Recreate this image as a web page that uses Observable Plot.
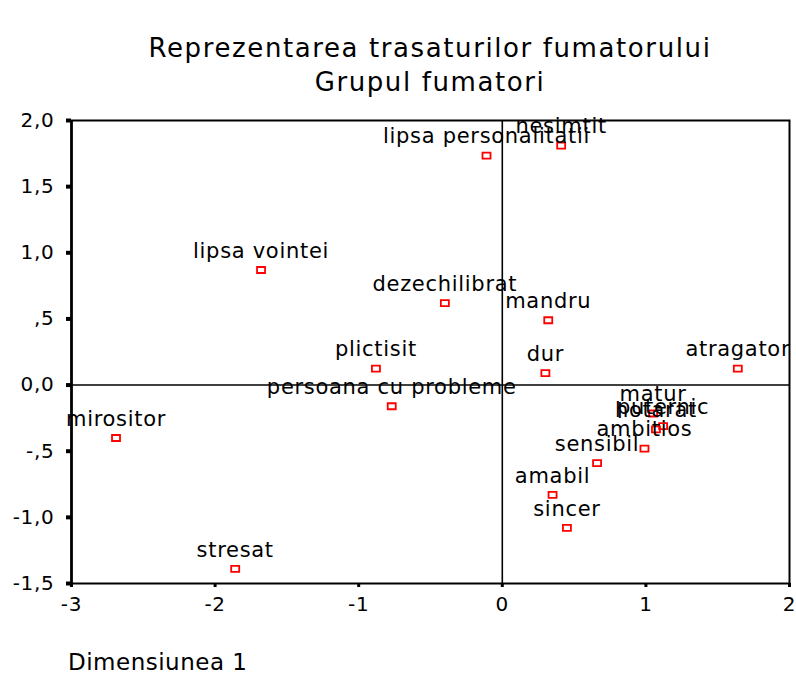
<!DOCTYPE html>
<html>
<head>
<meta charset="utf-8">
<script src="https://cdn.jsdelivr.net/npm/d3@7"></script>
<script src="https://cdn.jsdelivr.net/npm/@observablehq/plot@0.6"></script>
<style>
  html, body { margin: 0; padding: 0; background: white; overflow: hidden; }
  #wrap { position: relative; width: 796px; height: 676px; font-family: "DejaVu Sans", sans-serif; color: black; }
  .ttl { position: absolute; left: 130px; width: 600px; text-align: center; font-size: 26px; line-height: 26px; letter-spacing: 1.6px; white-space: nowrap; }
  #chart { position: absolute; left: 0; top: 100px; }
  #cap { position: absolute; left: 68px; top: 651px; font-size: 23px; line-height: 23px; letter-spacing: 0.5px; white-space: nowrap; }
</style>
</head>
<body>
<div id="wrap">
  <div class="ttl" style="top:35px">Reprezentarea trasaturilor fumatorului</div>
  <div class="ttl" style="top:69px">Grupul fumatori</div>
  <div id="chart"></div>
  <div id="cap">Dimensiunea 1</div>
</div>
<script>
const labels = ["lipsa personalitatii", "nesimtit", "lipsa vointei", "dezechilibrat", "mandru",
  "plictisit", "dur", "atragator", "persoana cu probleme", "mirositor", "matur", "puternic",
  "hotarat", "ambitios", "sensibil", "amabil", "sincer", "stresat"];
const dim1 = [-0.11, 0.41, -1.68, -0.40, 0.32, -0.88, 0.30, 1.64, -0.77, -2.69, 1.05, 1.12,
  1.07, 0.99, 0.66, 0.35, 0.45, -1.86];
const dim2 = [1.735, 1.81, 0.87, 0.62, 0.49, 0.125, 0.09, 0.125, -0.16, -0.40, -0.215, -0.31,
  -0.335, -0.48, -0.59, -0.83, -1.08, -1.39];
const xTicks = [-3, -2, -1, 0, 1, 2];
const xTickLabels = ["-3", "-2", "-1", "0", "1", "2"];
const yTicks = [-1.5, -1, -0.5, 0, 0.5, 1, 1.5, 2];
const yTickLabels = ["-1,5", "-1,0", "-,5", "0,0", ",5", "1,0", "1,5", "2,0"];

const data = labels.map((l, i) => ({label: l, x: dim1[i], y: dim2[i]}));

const rectSymbol = {
  draw(context) { context.rect(-4, -3, 8, 6); }
};

const chart = Plot.plot({
  width: 796,
  height: 540,
  marginTop: 20,
  marginLeft: 71,
  marginRight: 7,
  marginBottom: 57,
  style: {fontFamily: "DejaVu Sans", fontSize: "20px", letterSpacing: "0.7px", background: "white", color: "black"},
  x: {domain: [-3, 2]},
  y: {domain: [-1.5, 2]},
  marks: [
    Plot.ruleX([0], {stroke: "black", strokeWidth: 1.6}),
    Plot.ruleY([0], {stroke: "black", strokeWidth: 1.6}),
    Plot.frame({stroke: "black", strokeWidth: 2}),
    Plot.ruleX([-3], {stroke: "black", strokeWidth: 2.6}),
    Plot.axisX({ticks: xTicks, tickFormat: d => xTickLabels[xTicks.indexOf(d)], tickSize: 4, tickPadding: 9, strokeWidth: 3, fontSize: 20, label: null}),
    Plot.axisY({ticks: yTicks, tickFormat: d => yTickLabels[yTicks.indexOf(d)], tickSize: 5, tickPadding: 12, strokeWidth: 4, fontSize: 20, label: null}),
    Plot.dot(data, {x: "x", y: "y", symbol: rectSymbol, stroke: "red", fill: "none", strokeWidth: 1.8}),
    Plot.text(data, {x: "x", y: "y", text: "label", dy: -19, fontSize: 21, fill: "black"})
  ]
});
document.getElementById("chart").appendChild(chart);
</script>
</body>
</html>
